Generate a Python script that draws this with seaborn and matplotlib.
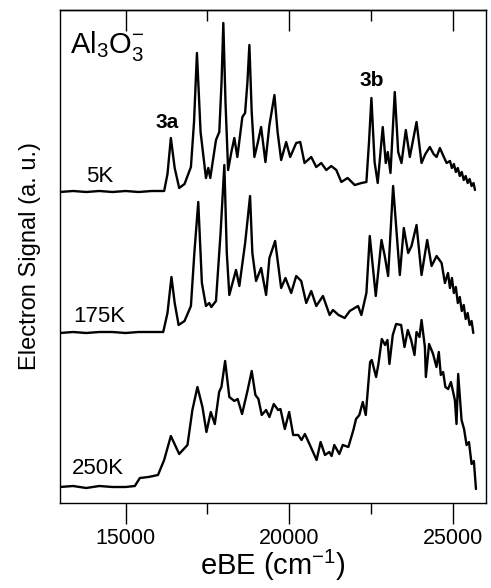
import numpy as np
import pandas as pd
import matplotlib
matplotlib.use("Agg")
import matplotlib.pyplot as plt
import seaborn as sns
from matplotlib.ticker import MultipleLocator

# ---------------- data ----------------
x_5K = [13000, 13400, 13800, 14200, 14600, 15000, 15400, 15800,
        16178, 16280, 16383, 16500, 16637, 16800, 16995, 17090, 17179, 17290,
        17454, 17525, 17586, 17760, 17861, 17930, 17984, 18050, 18130, 18230,
        18320, 18412, 18565, 18648, 18720, 18779, 18850, 18932, 19040, 19137,
        19269, 19391, 19544, 19640, 19749, 19902, 20025, 20208, 20331, 20462,
        20667, 20820, 20973, 21126, 21280, 21432, 21585, 21778, 21993, 22200,
        22350, 22430, 22503, 22600, 22696, 22849, 22941, 23002, 23085, 23216,
        23320, 23421, 23553, 23675, 23880, 24033, 24150, 24287, 24400, 24492,
        24593, 24700, 24798, 24900, 24960, 25020, 25080, 25140, 25200, 25260,
        25320, 25380, 25440, 25500, 25560, 25620, 25664]
s_5K = [0, 1, 0, 1, 0, 1, 0, 1,
        1, 18, 54, 24, 4, 8, 25, 70, 139, 60,
        14, 24, 14, 52, 60, 110, 169, 90, 22, 40,
        54, 35, 75, 79, 110, 147, 80, 35, 50, 65,
        30, 67, 97, 60, 32, 50, 35, 49, 50, 29,
        35, 25, 29, 22, 26, 22, 10, 14, 7, 9,
        10, 50, 94, 30, 9, 65, 29, 40, 19, 100,
        40, 29, 62, 35, 70, 29, 38, 45, 38, 35,
        44, 36, 29, 31, 24, 28, 20, 24, 16, 20,
        12, 16, 9, 13, 6, 9, 2]

x_175K = [13000, 13400, 13800, 14200, 14600, 15000, 15400, 15800,
          16150, 16280, 16401, 16500, 16620, 16800, 16995, 17100, 17219, 17330,
          17454, 17556, 17617, 17760, 17900, 18015, 18090, 18167, 18371, 18473,
          18650, 18800, 18870, 18983, 19137, 19290, 19391, 19565, 19749, 19880,
          20056, 20208, 20361, 20514, 20667, 20820, 21024, 21228, 21330, 21500,
          21688, 21841, 22095, 22197, 22350, 22453, 22636, 22810, 22910, 23013,
          23165, 23370, 23492, 23625, 23727, 23880, 24033, 24205, 24339, 24492,
          24645, 24746, 24840, 24900, 24960, 25020, 25080, 25140, 25200, 25260,
          25320, 25380, 25440, 25500, 25560, 25613]
s_175K = [0, 1, 0, 1, 1, 0, 1, 1,
          1, 20, 56, 30, 8, 12, 27, 80, 131, 50,
          27, 30, 26, 32, 100, 168, 80, 38, 63, 47,
          90, 137, 80, 52, 65, 38, 75, 92, 45, 55,
          40, 57, 52, 30, 42, 27, 37, 18, 23, 18,
          15, 22, 27, 18, 40, 97, 37, 93, 77, 57,
          147, 58, 105, 80, 87, 108, 58, 93, 67, 77,
          70, 50, 60, 45, 55, 40, 46, 30, 36, 22,
          28, 14, 20, 8, 12, 0]

x_250K = [13000, 13400, 13800, 14200, 14600, 15000, 15284, 15437, 15700, 15990,
          16178, 16383, 16637, 16890, 17040, 17194, 17347, 17469, 17601, 17724,
          17856, 17926, 18039, 18167, 18320, 18421, 18556, 18727, 18850, 18963,
          19055, 19156, 19290, 19391, 19523, 19655, 19728, 19860, 19993, 20116,
          20269, 20371, 20473, 20626, 20830, 20953, 21086, 21218, 21289, 21371,
          21524, 21629, 21800, 21953, 22034, 22135, 22239, 22331, 22463, 22514,
          22646, 22717, 22820, 22921, 22992, 23053, 23155, 23257, 23410, 23513,
          23614, 23716, 23818, 23880, 23970, 24033, 24135, 24165, 24263, 24385,
          24488, 24560, 24620, 24692, 24760, 24845, 24930, 25050, 25100, 25151,
          25254, 25330, 25407, 25480, 25560, 25630, 25694]
s_250K = [0, 1, -1, 1, 0, 0, 1, 9, 10, 12,
          27, 51, 33, 42, 77, 100, 80, 55, 75, 63,
          95, 100, 126, 90, 86, 88, 73, 97, 116, 92,
          88, 72, 77, 70, 83, 77, 78, 58, 75, 52,
          52, 47, 53, 42, 27, 45, 32, 35, 31, 42,
          33, 42, 40, 57, 68, 72, 85, 72, 125, 127,
          110, 123, 148, 142, 147, 123, 152, 163, 162, 140,
          157, 147, 132, 155, 150, 167, 140, 110, 143, 133,
          120, 135, 112, 115, 100, 98, 105, 87, 63, 113,
          67, 58, 42, 45, 23, 26, -2]

trace_names = ["5K", "175K", "250K"]
trace_offsets = [311, 170, 16]          # vertical stacking offsets (a.u.)
label_x = [14220, 14190, 14160]         # temperature label positions
label_dy = [15, 16, 19]

peak_labels = ["3a", "3b"]
peak_label_x = [16270, 22503]
peak_label_y = [381, 423]

# ---------------- build table ----------------
frames = []
for name, xs, ss, off in zip(trace_names, [x_5K, x_175K, x_250K],
                             [s_5K, s_175K, s_250K], trace_offsets):
    frames.append(pd.DataFrame({"eBE": xs,
                                "signal": np.array(ss, float) + off,
                                "trace": name}))
df = pd.concat(frames, ignore_index=True)

# ---------------- style ----------------
sns.set_theme(style="white")
plt.rcParams["font.family"] = ["Liberation Sans", "DejaVu Sans"]
plt.rcParams["mathtext.fontset"] = "custom"
plt.rcParams["mathtext.rm"] = "Liberation Sans"
plt.rcParams["mathtext.it"] = "Liberation Sans:italic"
plt.rcParams["mathtext.bf"] = "Liberation Sans:bold"

fig = plt.figure(figsize=(4.91, 5.88), dpi=100)
ax = fig.add_axes([60 / 491, 1 - 503 / 588, 426 / 491, 493 / 588])

sns.lineplot(data=df, x="eBE", y="signal", units="trace", estimator=None,
             color="black", linewidth=1.7, sort=False, ax=ax)

ax.set_xlim(13000, 26000)
ax.set_ylim(0, 493)
ax.set_yticks([])

ax.xaxis.set_major_locator(MultipleLocator(5000))
ax.xaxis.set_minor_locator(MultipleLocator(2500))
ax.tick_params(axis="x", which="major", direction="out", length=15, width=1,
               labelsize=15.5, pad=3, colors="black", bottom=True)
ax.tick_params(axis="x", which="minor", direction="out", length=8, width=1,
               colors="black", bottom=True)

sec = ax.secondary_xaxis("top")
sec.xaxis.set_major_locator(MultipleLocator(5000))
sec.xaxis.set_minor_locator(MultipleLocator(2500))
sec.tick_params(axis="x", which="major", direction="in", length=15, width=1,
                labeltop=False, colors="black")
sec.tick_params(axis="x", which="minor", direction="in", length=8, width=1,
                colors="black")
sec.spines["top"].set_color("black")
sec.spines["top"].set_linewidth(1)

for sp in ax.spines.values():
    sp.set_color("black")
    sp.set_linewidth(1)
    sp.set_visible(True)

ax.set_xlabel("eBE (cm$^{-1}$)", fontsize=21, labelpad=-1, color="black")
ax.set_ylabel("Electron Signal (a. u.)", fontsize=17, labelpad=14, color="black")

for name, lx, off, dy in zip(trace_names, label_x, trace_offsets, label_dy):
    ax.text(lx, off + dy, name, fontsize=16, ha="center", va="center", color="black")

for lab, px, py in zip(peak_labels, peak_label_x, peak_label_y):
    ax.text(px, py, lab, fontsize=15, fontweight="bold", ha="center",
            va="center", color="black")

ax.text(13290, 450, r"Al$_3$O$_3^{-}$", fontsize=21, ha="left",
        va="baseline", color="black")

fig.savefig("out.png", dpi=100)
